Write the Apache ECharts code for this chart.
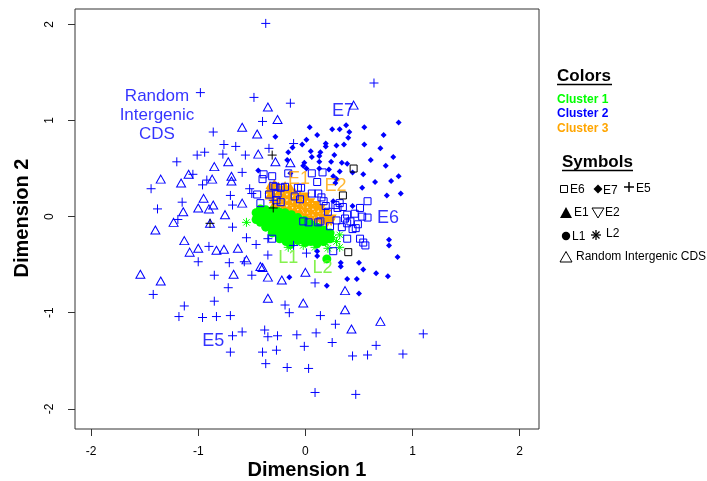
<!DOCTYPE html>
<html><head><meta charset="utf-8">
<script src="https://cdn.jsdelivr.net/npm/echarts@6/dist/echarts.min.js"></script>
<style>html,body{margin:0;padding:0;background:#fff}#c{width:707px;height:481px}</style>
</head><body><div id="c"></div>
<script>
const xTicks = [-2, -1, 0, 1, 2];
const yTicks = [-2, -1, 0, 1, 2];

// E5: blue plus
const e5Points = [[-0.37,2.01],[0.64,1.39],[-0.98,1.29],[-0.48,1.24],[-0.14,1.18],[-0.40,0.99],[-0.86,0.88],[-0.76,0.75],[-0.65,0.73],[-0.94,0.67],[-1.01,0.64],[-0.77,0.65],[-0.56,0.64],[-0.34,0.71],[-1.20,0.57],[-0.59,0.46],[-1.05,0.44],[-0.92,0.38],[-0.96,0.33],[-1.44,0.29],[-0.70,0.22],[-0.52,0.29],[-0.50,0.24],[-1.15,0.15],[-0.68,0.12],[-1.38,0.08],[-0.30,0.17],[-0.11,0.76],
[-1.19,-0.03],[-0.68,-0.11],[-0.55,-0.22],[-0.46,-0.29],[-0.35,-0.23],[-0.90,-0.31],[-1.00,-0.47],[-0.71,-0.48],[-0.57,-0.47],[-0.35,-0.40],[-0.11,-0.30],[0.01,-0.38],[-0.85,-0.61],[-0.50,-0.61],[-0.72,-0.74],[-1.42,-0.81],[-0.85,-0.88],[-1.13,-0.93],[-0.19,-0.92],[-0.15,-1.00],[-1.18,-1.04],[-0.96,-1.05],[-0.83,-1.04],[-0.70,-1.03],[-0.59,-1.20],[-0.68,-1.24],[-0.38,-1.18],[-0.35,-1.25],[-0.26,-1.24],[-0.08,-1.23],[-0.01,-1.35],[-0.70,-1.41],[-0.40,-1.41],[-0.27,-1.39],[-0.37,-1.53],[-0.17,-1.57],[0.03,-1.58],[0.09,-0.69],[0.14,-1.03],[0.28,-1.12],[0.10,-1.21],[0.25,-1.31],[0.66,-1.34],[0.44,-1.45],[0.58,-1.44],[0.91,-1.43],[1.10,-1.22],[0.09,-1.83],[0.47,-1.85]];

// Random intergenic CDS: blue open triangle
const randomPoints = [[-0.35,1.14],[-0.26,1.01],[-0.59,0.93],[-0.45,0.86],[-0.44,0.65],[-0.28,0.57],[-0.14,0.56],[-0.85,0.52],[-0.72,0.57],[-1.09,0.44],[-1.35,0.39],[-1.16,0.35],[-0.87,0.39],[-0.69,0.42],[-0.69,0.37],[-0.95,0.19],[-0.86,0.12],[-1.00,0.09],[-0.90,0.08],[-0.59,0.14],[-0.75,0.02],[-1.14,0.05],[0.45,1.16],
[-1.23,-0.06],[-1.40,-0.14],[-0.89,-0.07],[-1.13,-0.25],[-1.08,-0.37],[-1.00,-0.33],[-0.83,-0.35],[-0.76,-0.34],[-0.63,-0.33],[-0.55,-0.45],[-0.42,-0.52],[-0.40,-0.53],[-0.67,-0.60],[-1.54,-0.60],[-1.35,-0.67],[-0.35,-0.63],[-0.22,-0.66],[0.00,-0.58],[-0.35,-0.85],[-0.02,-0.90],[0.37,-0.77],[0.37,-0.97],[0.43,-1.17],[0.70,-1.09]];

// E7: blue filled diamond
const e7Points = [[0.04,0.93],[0.25,0.91],[0.32,0.91],[0.38,0.95],[0.41,0.88],[0.55,0.93],[0.87,0.98],[0.73,0.85],[-0.28,0.83],[0.11,0.85],[0.01,0.80],[-0.03,0.75],[-0.12,0.72],[0.19,0.76],[0.19,0.73],[0.29,0.74],[0.36,0.75],[0.40,0.82],[0.55,0.75],[0.70,0.71],[0.82,0.62],[-0.16,0.67],[0.05,0.68],[0.14,0.67],[0.13,0.63],[0.27,0.64],[0.06,0.62],[-0.17,0.59],[0.13,0.57],[0.24,0.57],[0.34,0.56],[0.39,0.55],[-0.01,0.56],[-0.02,0.53],[0.61,0.59],[0.75,0.53],[-0.44,0.48],[0.01,0.50],[0.13,0.50],[0.22,0.49],[0.32,0.47],[0.44,0.46],[0.54,0.44],[0.87,0.42],[0.65,0.36],[0.80,0.37],[0.28,0.35],[0.53,0.30],[0.76,0.22],[0.89,0.24],[0.26,0.16],[-0.14,0.45],[0.26,0.42],[0.29,0.39],[0.44,0.11],[0.78,-0.24],[0.78,-0.30],[0.86,-0.42],[0.11,-0.36],[0.11,-0.41],[0.33,-0.48],[0.33,-0.52],[0.50,-0.48],[0.54,-0.55],[0.66,-0.59],[0.77,-0.62],[0.39,-0.65],[0.48,-0.65],[0.50,-0.80],[0.20,-0.72],[-0.15,-0.63]];

// E6: blue open square
const e6Points = [[-0.39,0.44],[-0.40,0.39],[-0.31,0.42],[-0.16,0.45],[0.06,0.45],[0.16,0.46],[0.11,0.36],[-0.07,0.30],[0.06,0.24],[0.12,0.24],[-0.10,0.21],[-0.05,0.18],[0.32,0.14],[0.58,0.16],[0.17,0.16],[0.19,0.11],[0.21,0.05],[0.30,0.09],[0.39,0.02],[0.46,0.03],[0.51,0.09],[0.58,-0.01],[-0.42,0.14],[-0.45,0.23],[-0.34,0.23],[-0.26,0.24],[-0.27,0.17],[-0.23,0.15],[-0.30,0.32],[-0.23,0.30],[-0.04,0.30],[-0.19,0.31],[-0.28,0.31],[0.15,0.20],[0.28,0.12],[0.35,0.10],
[0.47,-0.12],[0.44,-0.13],[0.37,-0.02],[0.39,-0.07],[0.29,-0.04],[0.34,-0.11],[0.23,-0.10],[-0.02,-0.05],[0.03,-0.06],[0.12,-0.06],[0.14,-0.05],[-0.31,-0.23],[0.39,-0.23],[0.51,-0.23],[0.54,-0.27],[0.56,-0.30],[0.26,-0.36],[0.53,0.00],[0.42,-0.05],[0.49,-0.08]];

// dark (black) markers
const blackSquares = [[0.45,0.50],[0.40,-0.37],[0.35,0.22]];
const blackPlus = [[-0.31,0.64],[-0.30,0.09],[-0.89,-0.07]];

// Cluster 3 (orange): E1 up triangles, E2 down triangles
const e1Points = [[-0.34,0.22],[-0.34,0.28],[-0.33,0.33],[-0.30,0.12],[-0.30,0.18],[-0.30,0.24],[-0.30,0.30],[-0.29,0.35],[-0.25,0.08],[-0.25,0.14],[-0.25,0.20],[-0.25,0.26],[-0.25,0.32],[-0.20,0.05],[-0.20,0.11],[-0.20,0.17],[-0.20,0.23],[-0.20,0.29],[-0.19,0.33],[-0.15,0.04],[-0.15,0.10],[-0.15,0.16],[-0.15,0.22],[-0.15,0.28],[-0.14,0.31],[-0.10,0.02],[-0.10,0.08],[-0.10,0.14],[-0.10,0.20],[-0.10,0.26],[-0.05,0.00],[-0.05,0.06],[-0.05,0.12],[-0.05,0.18],[-0.05,0.23]];
const e2Points = [[0.00,-0.01],[0.00,0.05],[0.00,0.11],[0.00,0.17],[0.00,0.21],[0.05,-0.03],[0.05,0.03],[0.05,0.09],[0.05,0.15],[0.10,-0.05],[0.10,0.01],[0.10,0.07],[0.10,0.12],[0.15,-0.07],[0.15,-0.01],[0.15,0.05],[0.15,0.09],[0.20,-0.08],[0.20,-0.03],[0.20,0.03],[0.24,-0.06],[0.25,-0.02]];

// Cluster 1 (green): L1 filled circles, L2 asterisks
const l1Points = [[-0.46,0.04],[-0.46,-0.03],[-0.42,0.08],[-0.42,0.01],[-0.42,-0.06],[-0.37,0.07],[-0.37,0.01],[-0.37,-0.05],[-0.37,-0.11],[-0.31,0.06],[-0.31,0.00],[-0.31,-0.06],[-0.31,-0.12],[-0.31,-0.17],[-0.25,0.05],[-0.25,-0.01],[-0.25,-0.07],[-0.25,-0.13],[-0.25,-0.19],[-0.24,-0.23],[-0.19,0.04],[-0.19,-0.02],[-0.19,-0.08],[-0.19,-0.14],[-0.19,-0.20],[-0.18,-0.26],[-0.13,0.02],[-0.13,-0.04],[-0.13,-0.10],[-0.13,-0.16],[-0.13,-0.22],[-0.14,-0.29],[-0.07,-0.01],[-0.07,-0.07],[-0.07,-0.13],[-0.07,-0.19],[-0.07,-0.25],[-0.01,-0.04],[-0.01,-0.10],[-0.01,-0.16],[-0.01,-0.22],[0.00,-0.27],[0.05,-0.08],[0.05,-0.14],[0.05,-0.20],[0.05,-0.26],[0.11,-0.11],[0.11,-0.17],[0.11,-0.23],[0.11,-0.28],[0.17,-0.14],[0.17,-0.20],[0.17,-0.26],[0.23,-0.17],[0.23,-0.23],[0.20,-0.44]];
const l2Points = [[-0.55,-0.06],[0.29,-0.26],[0.32,-0.32],[0.21,-0.33],[0.09,-0.32],[-0.02,-0.30],[0.32,-0.19],[-0.16,-0.32],[0.19,-0.27],[0.26,-0.22]];

// in-plot annotations
const annotText = ['Random\nIntergenic\nCDS', 'E7', 'E1', 'E2', 'E6', 'L1', 'L2', 'E5'];
const annotX = [-1.385, 0.35, -0.06, 0.28, 0.77, -0.16, 0.16, -0.86];
const annotY = [1.055, 1.10, 0.39, 0.32, -0.02, -0.43, -0.53, -1.29];
const annotColor = ['#0000ff', '#0000ff', '#ffa500', '#ffa500', '#0000ff', '#66ee22', '#66ee22', '#0000ff'];

const BLUE = '#0000ff', GREEN = '#00ff00', ORANGE = '#ffa500';
const FONT = 'Liberation Sans, Arial, Helvetica, sans-serif';
const PLUS = 'path://M0,-1L0,1M-1,0L1,0';
const STAR = 'path://M0,-1L0,1M-1,0L1,0M-0.7,-0.7L0.7,0.7M-0.7,0.7L0.7,-0.7';

function strokeSeries(name, data, symbol, size, color, extra) {
  return Object.assign({
    name, type: 'scatter', data, symbol, symbolSize: size, silent: true,
    itemStyle: { color: 'none', borderColor: color, borderWidth: 1, opacity: 1 }
  }, extra || {});
}
function fillSeries(name, data, symbol, size, color, extra) {
  return Object.assign({
    name, type: 'scatter', data, symbol, symbolSize: size, silent: true,
    itemStyle: { color: color, opacity: 1 }
  }, extra || {});
}

const chart = echarts.init(document.getElementById('c'), null, { renderer: 'canvas' });

const txt = (text, x, y, size, color, weight, extra) => Object.assign({
  type: 'text', x, y, silent: true,
  style: { text, fill: color, fontSize: size, fontWeight: weight || 'normal', fontFamily: FONT, align: 'left', verticalAlign: 'middle' }
}, extra || {});
const line = (x1, y1, x2, y2, w, c) => ({ type: 'line', silent: true, shape: { x1, y1, x2, y2 }, style: { stroke: c || '#000', lineWidth: w || 1 } });
const poly = (pts, fill, stroke) => ({ type: 'polygon', silent: true, shape: { points: pts }, style: { fill: fill || 'none', stroke: stroke || null, lineWidth: 1 } });

chart.setOption({
  animation: false,
  backgroundColor: '#fff',
  grid: { left: 75, right: 168, top: 9, bottom: 52, show: true, borderColor: '#333', borderWidth: 1, backgroundColor: 'transparent' },
  xAxis: {
    type: 'value', min: -2.15, max: 2.18, position: 'bottom',
    axisLine: { show: false, onZero: false },
    axisTick: { show: true, length: 7, customValues: xTicks, lineStyle: { color: '#333' } },
    axisLabel: { customValues: xTicks, margin: 17, color: '#000', fontSize: 12, fontFamily: FONT },
    splitLine: { show: false }
  },
  yAxis: {
    type: 'value', min: -2.21, max: 2.16, position: 'left',
    axisLine: { show: false, onZero: false },
    axisTick: { show: true, length: 7, customValues: yTicks, lineStyle: { color: '#333' } },
    axisLabel: { customValues: yTicks, rotate: 90, margin: 19, color: '#000', fontSize: 12, fontFamily: FONT },
    splitLine: { show: false }
  },
  series: [
    fillSeries('E1', e1Points, 'triangle', [9, 8], ORANGE),
    fillSeries('E2', e2Points, 'triangle', [9, 8], ORANGE, { symbolRotate: 180 }),
    fillSeries('L1', l1Points, 'circle', 9, GREEN),
    strokeSeries('L2', l2Points, STAR, 9, GREEN),
    strokeSeries('E6', e6Points, 'rect', 7, BLUE),
    fillSeries('E7', e7Points, 'diamond', 6, BLUE),
    strokeSeries('E5', e5Points, PLUS, 9, BLUE),
    strokeSeries('Random', randomPoints, 'triangle', [9, 8], BLUE),
    strokeSeries('darkSq', blackSquares, 'rect', 7, '#000'),
    strokeSeries('darkPlus', blackPlus, PLUS, 9, '#000'),
    {
      name: 'annot', type: 'scatter', symbolSize: 0, silent: true, z: 10,
      data: annotText.map((t, i) => ({
        name: t, value: [annotX[i], annotY[i]],
        label: { color: annotColor[i], fontSize: i === 0 ? 17 : 18, lineHeight: 19 }
      })),
      label: { show: true, position: 'inside', formatter: p => p.name, fontFamily: FONT, align: 'center', verticalAlign: 'middle' }
    }
  ],
  graphic: [
    { type: 'text', x: 307, y: 470, silent: true,
      style: { text: 'Dimension 1', fill: '#000', fontSize: 20, fontWeight: 'bold', fontFamily: FONT, align: 'center', verticalAlign: 'middle' } },
    { type: 'text', x: 22, y: 218, rotation: Math.PI / 2, silent: true,
      style: { text: 'Dimension 2', fill: '#000', fontSize: 20, fontWeight: 'bold', fontFamily: FONT, align: 'center', verticalAlign: 'middle' } },
    txt('Colors', 557, 76, 17, '#000', 'bold'),
    line(557, 84.5, 612, 84.5, 1.5),
    txt('Cluster 1', 557, 100, 12, GREEN, 'bold'),
    txt('Cluster 2', 557, 114, 12, BLUE, 'bold'),
    txt('Cluster 3', 557, 129, 12, ORANGE, 'bold'),
    txt('Symbols', 562, 162, 17, '#000', 'bold'),
    line(562, 170.5, 633, 170.5, 1.5),
    { type: 'rect', silent: true, shape: { x: 560.5, y: 185.5, width: 7, height: 7 }, style: { fill: 'none', stroke: '#000', lineWidth: 1 } },
    txt('E6', 570, 190, 12, '#000'),
    poly([[598, 184.5], [602.5, 189], [598, 193.5], [593.5, 189]], '#000'),
    txt('E7', 603, 191, 12, '#000'),
    line(624, 187, 634, 187, 1.5), line(629, 182, 629, 192, 1.5),
    txt('E5', 636, 189, 12, '#000'),
    poly([[566, 207], [572, 218], [560, 218]], '#000'),
    txt('E1', 574, 213, 12, '#000'),
    poly([[592, 208], [604, 208], [598, 218]], null, '#000'),
    txt('E2', 605, 213, 12, '#000'),
    { type: 'circle', silent: true, shape: { cx: 566, cy: 236, r: 4.2 }, style: { fill: '#000' } },
    txt('L1', 572, 237, 12, '#000'),
    line(591, 235, 601, 235, 1.3), line(596, 230, 596, 240, 1.3), line(592.5, 231.5, 599.5, 238.5, 1.3), line(592.5, 238.5, 599.5, 231.5, 1.3),
    txt('L2', 606, 234, 12, '#000'),
    poly([[566, 251.5], [572, 262], [560, 262]], null, '#000'),
    txt('Random Intergenic CDS', 576, 257, 12, '#000')
  ]
});
</script>
</body></html>
